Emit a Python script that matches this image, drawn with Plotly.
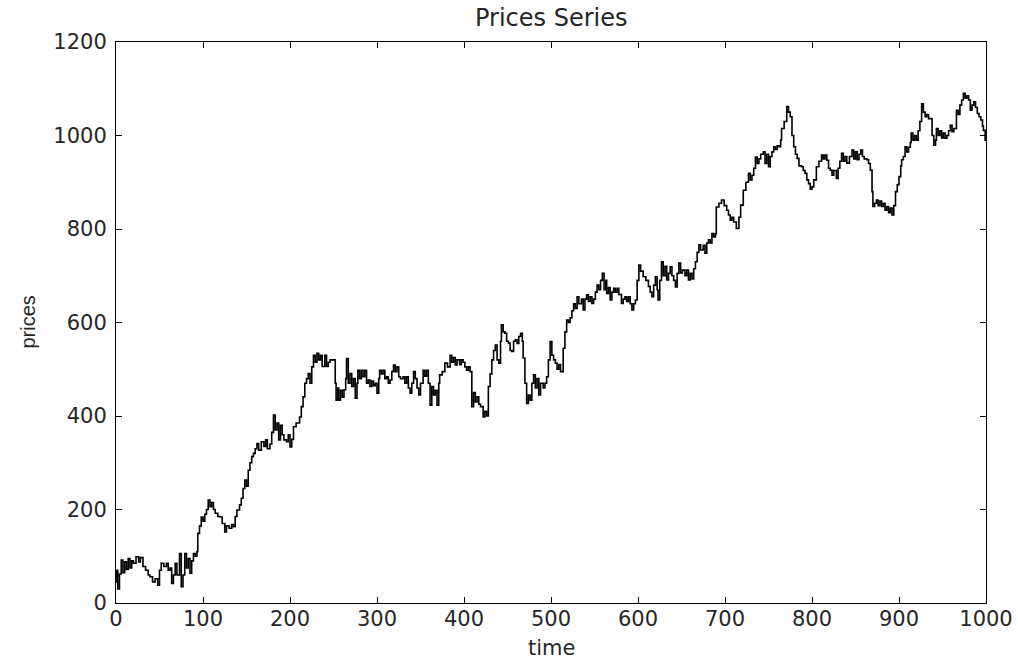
import plotly.graph_objects as go

time = [0, 1, 2, 4, 6, 8, 10, 12, 14, 16, 18, 20, 23, 26, 28, 31, 34, 37, 39, 42, 45, 48, 50, 52, 55, 58, 60, 62, 64, 66, 68, 70, 73, 75, 77, 79, 81, 83, 85, 87, 89, 91, 93, 94, 96, 98, 100, 102, 104, 106, 108, 110, 112, 114, 117, 120, 122, 125, 127, 130, 133, 135, 137, 139, 142, 144, 146, 148, 150, 152, 154, 156, 158, 160, 162, 164, 167, 170, 172, 174, 177, 179, 181, 183, 185, 187, 189, 191, 193, 196, 198, 200, 202, 204, 207, 211, 213, 215, 217, 219, 221, 223, 225, 227, 229, 231, 233, 235, 237, 240, 242, 244, 246, 250, 252, 253, 255, 256, 258, 260, 262, 264, 265, 267, 269, 271, 273, 275, 277, 278, 280, 282, 284, 286, 288, 290, 292, 294, 296, 298, 300, 302, 303, 305, 307, 309, 311, 313, 315, 317, 319, 321, 323, 325, 327, 330, 332, 334, 336, 338, 340, 342, 344, 346, 348, 350, 353, 355, 357, 359, 361, 363, 365, 367, 369, 371, 372, 375, 378, 381, 384, 386, 388, 390, 392, 395, 397, 399, 401, 403, 405, 407, 409, 411, 413, 415, 417, 419, 422, 424, 426, 428, 430, 432, 434, 436, 438, 440, 442, 443, 445, 447, 449, 451, 453, 455, 457, 459, 461, 463, 465, 467, 468, 470, 472, 474, 476, 478, 480, 482, 484, 486, 488, 491, 493, 495, 497, 499, 501, 503, 505, 507, 509, 511, 514, 516, 518, 520, 522, 524, 526, 528, 530, 532, 535, 537, 539, 541, 543, 545, 547, 549, 551, 553, 555, 557, 559, 561, 563, 564, 566, 568, 570, 572, 574, 576, 578, 581, 583, 585, 587, 589, 591, 593, 595, 597, 599, 601, 603, 606, 609, 612, 614, 616, 618, 620, 622, 623, 625, 627, 629, 631, 633, 635, 637, 639, 641, 643, 645, 647, 649, 651, 654, 656, 658, 660, 662, 664, 666, 668, 670, 672, 675, 677, 679, 681, 683, 685, 687, 689, 690, 693, 696, 699, 702, 704, 706, 708, 710, 713, 716, 718, 721, 724, 727, 729, 731, 733, 735, 737, 739, 741, 744, 746, 748, 750, 752, 754, 756, 758, 760, 762, 764, 765, 768, 771, 773, 775, 777, 779, 781, 783, 785, 788, 790, 792, 794, 796, 798, 800, 802, 805, 808, 811, 813, 815, 817, 819, 821, 823, 825, 828, 830, 832, 834, 836, 838, 840, 843, 846, 848, 850, 852, 854, 856, 858, 860, 863, 865, 867, 869, 870, 872, 874, 876, 878, 880, 882, 884, 886, 888, 890, 892, 894, 896, 898, 900, 902, 903, 905, 907, 909, 911, 913, 914, 916, 918, 920, 922, 924, 926, 928, 930, 932, 934, 936, 938, 940, 942, 943, 945, 947, 949, 951, 953, 955, 957, 959, 961, 963, 966, 968, 970, 972, 974, 976, 978, 980, 982, 984, 986, 988, 990, 992, 994, 996, 997, 999, 1000]

prices = [45, 70, 30, 62, 92, 65, 88, 72, 95, 75, 90, 85, 99, 88, 97, 78, 70, 60, 56, 45, 52, 38, 70, 85, 78, 85, 70, 75, 42, 60, 85, 60, 106, 35, 60, 106, 75, 95, 64, 90, 106, 100, 110, 149, 165, 184, 175, 190, 200, 220, 206, 215, 200, 192, 185, 184, 170, 152, 165, 160, 168, 163, 185, 199, 210, 224, 245, 263, 250, 284, 300, 313, 320, 330, 341, 327, 345, 335, 349, 330, 340, 365, 402, 370, 385, 349, 380, 360, 349, 345, 360, 334, 350, 377, 385, 398, 420, 441, 470, 480, 491, 470, 505, 530, 515, 534, 520, 530, 506, 530, 506, 515, 520, 520, 470, 434, 460, 434, 455, 440, 456, 480, 523, 470, 491, 463, 480, 438, 470, 498, 480, 498, 484, 498, 470, 477, 463, 475, 465, 470, 449, 480, 498, 490, 498, 480, 484, 470, 477, 495, 509, 495, 505, 484, 480, 484, 470, 484, 460, 449, 470, 495, 480, 460, 445, 470, 498, 485, 498, 470, 423, 463, 445, 455, 423, 470, 488, 495, 513, 505, 530, 515, 525, 509, 520, 510, 520, 515, 505, 498, 505, 495, 420, 450, 430, 441, 425, 420, 398, 410, 400, 463, 490, 520, 540, 552, 520, 513, 560, 595, 580, 577, 560, 556, 540, 538, 560, 563, 555, 570, 577, 560, 524, 470, 427, 445, 434, 470, 488, 460, 480, 445, 470, 460, 470, 484, 520, 559, 530, 520, 513, 500, 510, 495, 545, 580, 605, 600, 610, 625, 640, 630, 655, 640, 650, 627, 650, 659, 645, 655, 641, 650, 665, 680, 670, 690, 705, 670, 690, 662, 675, 648, 665, 673, 665, 673, 660, 641, 650, 655, 645, 655, 640, 627, 640, 648, 690, 723, 710, 698, 690, 677, 665, 655, 680, 698, 670, 648, 690, 730, 700, 720, 691, 705, 719, 700, 690, 676, 705, 727, 706, 712, 700, 712, 691, 705, 693, 715, 730, 750, 766, 755, 765, 748, 770, 777, 770, 790, 783, 790, 847, 855, 862, 850, 840, 830, 819, 825, 815, 801, 825, 851, 883, 900, 919, 905, 915, 930, 954, 940, 950, 960, 965, 940, 960, 933, 955, 965, 976, 970, 978, 976, 990, 1015, 1030, 1062, 1050, 1040, 1000, 976, 960, 951, 935, 933, 925, 919, 905, 897, 885, 890, 905, 933, 945, 958, 950, 958, 947, 930, 926, 915, 925, 908, 930, 945, 962, 945, 955, 941, 955, 969, 950, 965, 948, 960, 969, 955, 950, 948, 940, 926, 880, 848, 855, 862, 850, 860, 848, 855, 840, 848, 835, 845, 830, 850, 880, 895, 912, 935, 948, 955, 976, 965, 975, 985, 1005, 990, 1000, 990, 1010, 1030, 1068, 1050, 1040, 1045, 1036, 1036, 1000, 979, 990, 1015, 1000, 1010, 995, 1005, 994, 1000, 1010, 1022, 1008, 1015, 1054, 1045, 1065, 1076, 1090, 1080, 1085, 1076, 1054, 1065, 1072, 1060, 1047, 1040, 1033, 1020, 1011, 990, 1000]

x_ticks = [0, 100, 200, 300, 400, 500, 600, 700, 800, 900, 1000]
y_ticks = [0, 200, 400, 600, 800, 1000, 1200]

title_text = "Prices Series"
x_label = "time"
y_label = "prices"

W, H = 1018, 664
L, R, T, B = 116, 32, 42, 61
plot_w = W - L - R
plot_h = H - T - B

fig = go.Figure()
fig.add_trace(go.Scatter(x=time, y=prices, mode="lines",
                         line=dict(color="black", width=1.6, shape="hv"),
                         showlegend=False))

axis_common = dict(showgrid=False, zeroline=False, showline=True, linecolor="black",
                   linewidth=1, mirror="allticks", ticks="inside", ticklen=6,
                   tickcolor="black", tickwidth=1, automargin=False,
                   tickfont=dict(family="DejaVu Sans", size=21, color="#262626"))

fig.update_layout(
    width=W, height=H,
    paper_bgcolor="white", plot_bgcolor="white",
    margin=dict(l=L, r=R, t=T, b=B, autoexpand=False),
    xaxis=dict(range=[0, 1000], tickvals=x_ticks, ticktext=[str(v) for v in x_ticks],
               ticklabelstandoff=-3, **axis_common),
    yaxis=dict(range=[0, 1200], tickvals=y_ticks, ticktext=[str(v) for v in y_ticks],
               ticklabelstandoff=4, **axis_common),
    annotations=[
        dict(text=title_text, xref="paper", yref="paper", x=0.5, y=1 + (T - 18) / plot_h,
             xanchor="center", yanchor="middle", showarrow=False,
             font=dict(family="DejaVu Sans", size=24, color="#262626")),
        dict(text=x_label, xref="paper", yref="paper", x=0.5, y=-(648 - (H - B)) / plot_h,
             xanchor="center", yanchor="middle", showarrow=False,
             font=dict(family="DejaVu Sans", size=21, color="#262626")),
        dict(text=y_label, xref="paper", yref="paper", x=-(L - 27) / plot_w, y=0.5,
             xanchor="center", yanchor="middle", showarrow=False, textangle=-90,
             font=dict(family="Liberation Sans", size=20, color="#262626")),
    ],
)

fig.write_html("out.html", config={"displayModeBar": False},
               post_script="document.body.style.margin='0';document.body.style.overflow='hidden';")
